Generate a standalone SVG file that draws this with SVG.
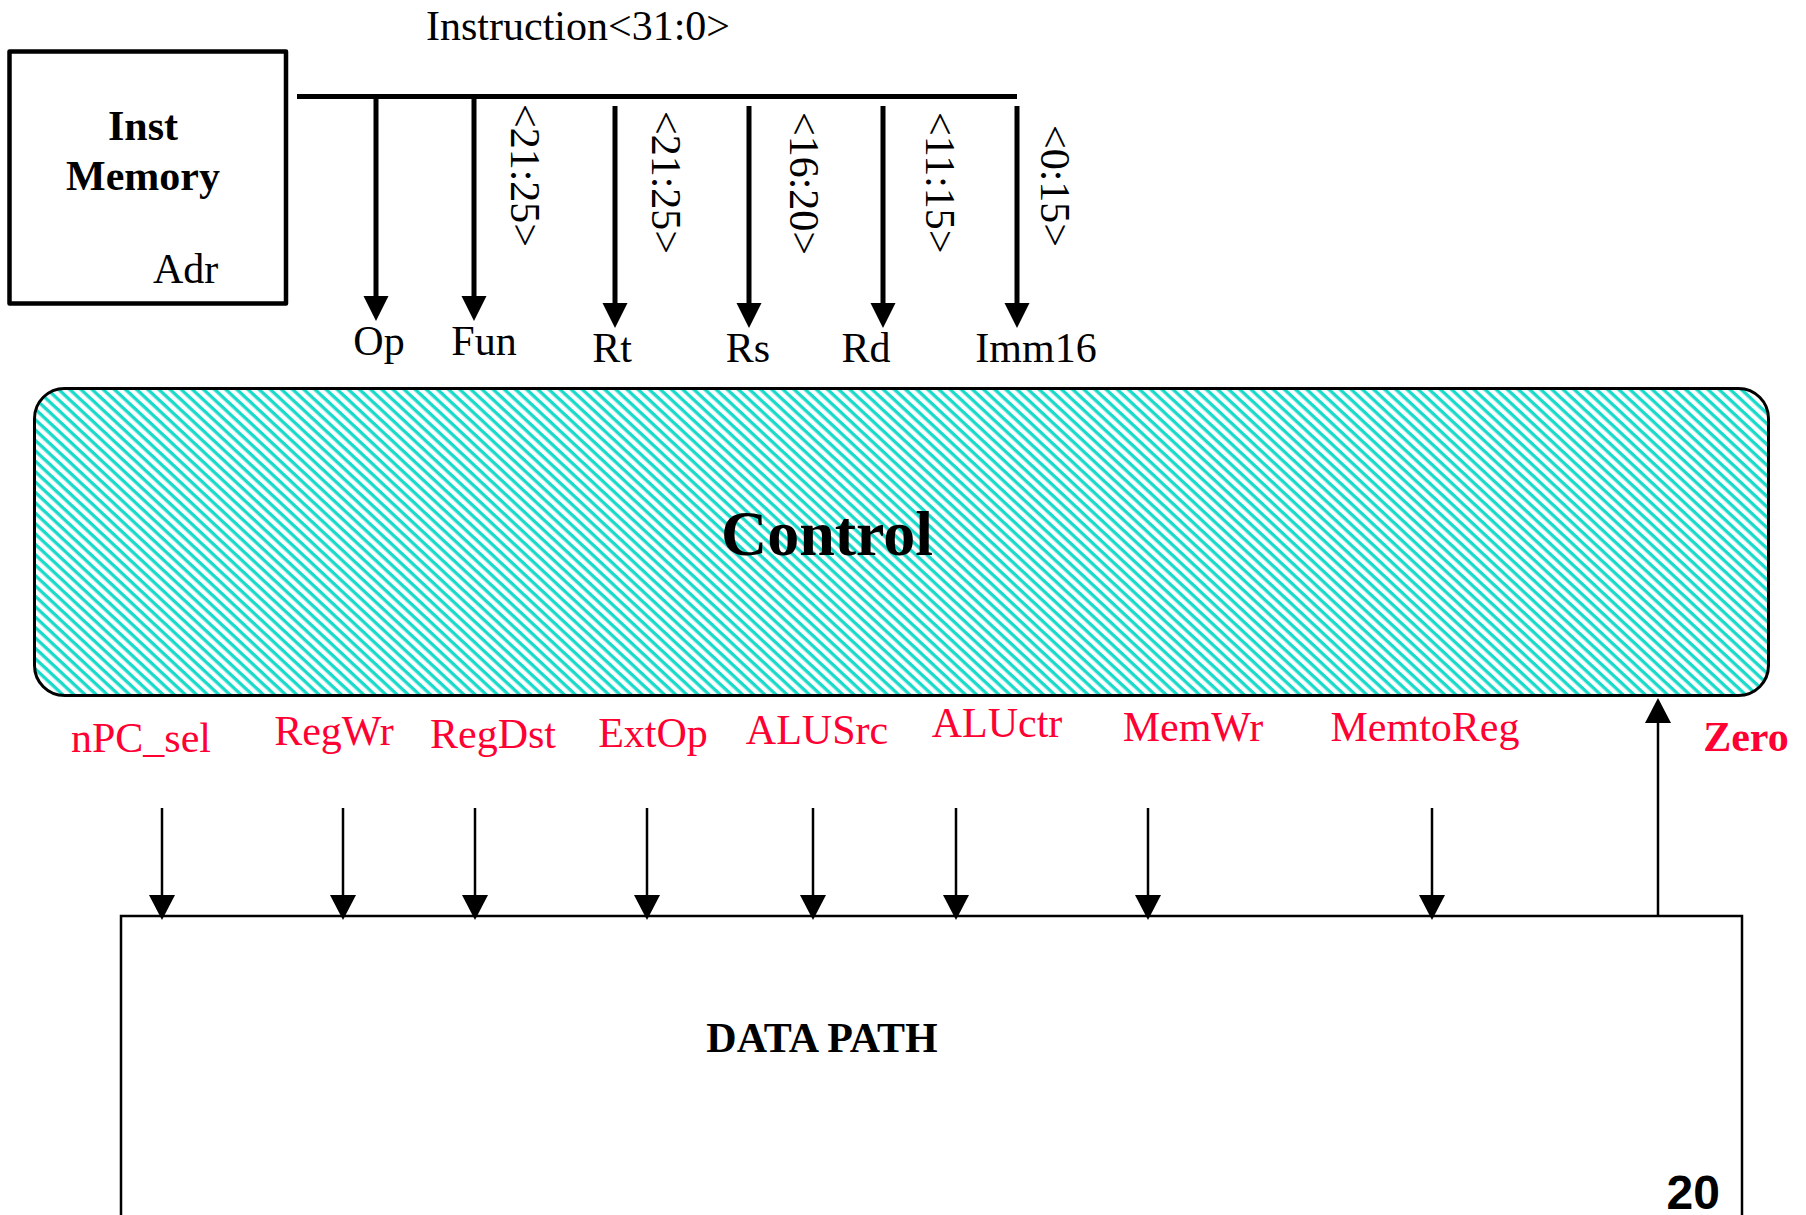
<svg xmlns="http://www.w3.org/2000/svg" width="1806" height="1215" viewBox="0 0 1806 1215">
  <defs>
    <style>
      .lbl { font-family: "Liberation Serif", "Times New Roman", serif; font-size: 42px; fill: #000; }
      .bold { font-weight: bold; }
      .sig { font-family: "Liberation Serif", "Times New Roman", serif; font-size: 42px; fill: #FF0033; text-anchor: middle; }
      .mid { text-anchor: middle; }
      .bus { stroke: #000; stroke-width: 5; fill: none; }
      .wire { stroke: #000; stroke-width: 2.5; fill: none; }
      .box { fill: #fff; stroke: #000; stroke-width: 4.5; stroke-linejoin: round; }
    </style>
    <!-- wide downward diagonal hatch for the control unit -->
    <pattern id="hatch" patternUnits="userSpaceOnUse" width="20" height="7.6" patternTransform="rotate(43)">
      <rect width="20" height="7.6" fill="#fff"/>
      <rect y="0" width="20" height="3.3" fill="#18DACA"/>
    </pattern>
    <marker id="headBig" markerUnits="userSpaceOnUse" markerWidth="26" markerHeight="26" refX="5" refY="12.5" orient="auto">
      <path d="M0,0 L25,12.5 L0,25 z" fill="#000"/>
    </marker>
    <marker id="head" markerUnits="userSpaceOnUse" markerWidth="26" markerHeight="27" refX="5" refY="13" orient="auto">
      <path d="M0,0 L25,13 L0,26 z" fill="#000"/>
    </marker>
  </defs>

  <rect width="1806" height="1215" fill="#fff"/>

  <!-- instruction memory -->
  <g id="inst-memory">
    <rect class="box" x="9.5" y="51.5" width="276.5" height="252"/>
    <text class="lbl bold mid" x="143" y="140">Inst</text>
    <text class="lbl bold mid" x="143" y="190">Memory</text>
    <text class="lbl" x="153" y="283">Adr</text>
  </g>

  <!-- instruction bus label -->
  <g id="instruction-bus">
    <text class="lbl" x="426" y="40">Instruction&lt;31:0&gt;</text>
  </g>

  <!-- field labels -->
  <g id="fields">
    <text class="lbl mid" x="379" y="355">Op</text>
    <text class="lbl mid" x="484" y="355">Fun</text>
    <text class="lbl mid" x="612" y="362">Rt</text>
    <text class="lbl mid" x="748" y="362">Rs</text>
    <text class="lbl mid" x="866" y="362">Rd</text>
    <text class="lbl mid" x="1036" y="362">Imm16</text>
    <text class="lbl" transform="translate(511,104) rotate(90)">&lt;21:25&gt;</text>
    <text class="lbl" transform="translate(652,111) rotate(90)">&lt;21:25&gt;</text>
    <text class="lbl" transform="translate(790,112) rotate(90)">&lt;16:20&gt;</text>
    <text class="lbl" transform="translate(926,112) rotate(90)">&lt;11:15&gt;</text>
    <text class="lbl" transform="translate(1041,125) rotate(90)">&lt;0:15&gt;</text>
  </g>

  <!-- control unit -->
  <g id="control">
    <rect x="34.5" y="388.5" width="1734" height="307" rx="30" ry="30" fill="url(#hatch)" stroke="#000" stroke-width="3"/>
    <text class="lbl bold mid" x="827" y="555" style="font-size:64px">Control</text>
  </g>

  <!-- control signal labels -->
  <g id="signals">
    <text class="sig" x="141" y="752">nPC_sel</text>
    <text class="sig" x="334" y="745">RegWr</text>
    <text class="sig" x="493" y="748">RegDst</text>
    <text class="sig" x="653" y="747">ExtOp</text>
    <text class="sig" x="817" y="744">ALUSrc</text>
    <text class="sig" x="997" y="737">ALUctr</text>
    <text class="sig" x="1193" y="741">MemWr</text>
    <text class="sig" x="1425" y="741">MemtoReg</text>
    <text class="sig bold" x="1746" y="751">Zero</text>
  </g>

  <!-- datapath -->
  <g id="datapath">
    <path class="wire" d="M121,1216 V916 H1742 V1216"/>
    <text class="lbl bold mid" x="822" y="1052">DATA PATH</text>
    <text x="1720" y="1209" text-anchor="end" style="font-family:'Liberation Sans', Arial, sans-serif; font-weight:bold; font-size:48px">20</text>
  </g>

  <!-- connectors -->
  <g id="connectors">
    <line class="bus" x1="297" y1="96.5" x2="1017" y2="96.5"/>
    <line class="bus" x1="376" y1="99" x2="376" y2="301" marker-end="url(#headBig)"/>
    <line class="bus" x1="474" y1="99" x2="474" y2="301" marker-end="url(#headBig)"/>
    <line class="bus" x1="615" y1="106" x2="615" y2="308" marker-end="url(#headBig)"/>
    <line class="bus" x1="749" y1="106" x2="749" y2="308" marker-end="url(#headBig)"/>
    <line class="bus" x1="883" y1="106" x2="883" y2="308" marker-end="url(#headBig)"/>
    <line class="bus" x1="1017" y1="106" x2="1017" y2="308" marker-end="url(#headBig)"/>

    <line class="wire" x1="162" y1="808" x2="162" y2="900" marker-end="url(#head)"/>
    <line class="wire" x1="343" y1="808" x2="343" y2="900" marker-end="url(#head)"/>
    <line class="wire" x1="475" y1="808" x2="475" y2="900" marker-end="url(#head)"/>
    <line class="wire" x1="647" y1="808" x2="647" y2="900" marker-end="url(#head)"/>
    <line class="wire" x1="813" y1="808" x2="813" y2="900" marker-end="url(#head)"/>
    <line class="wire" x1="956" y1="808" x2="956" y2="900" marker-end="url(#head)"/>
    <line class="wire" x1="1148" y1="808" x2="1148" y2="900" marker-end="url(#head)"/>
    <line class="wire" x1="1432" y1="808" x2="1432" y2="900" marker-end="url(#head)"/>
    <line class="wire" x1="1658" y1="917" x2="1658" y2="718" marker-end="url(#head)"/>
  </g>
</svg>
